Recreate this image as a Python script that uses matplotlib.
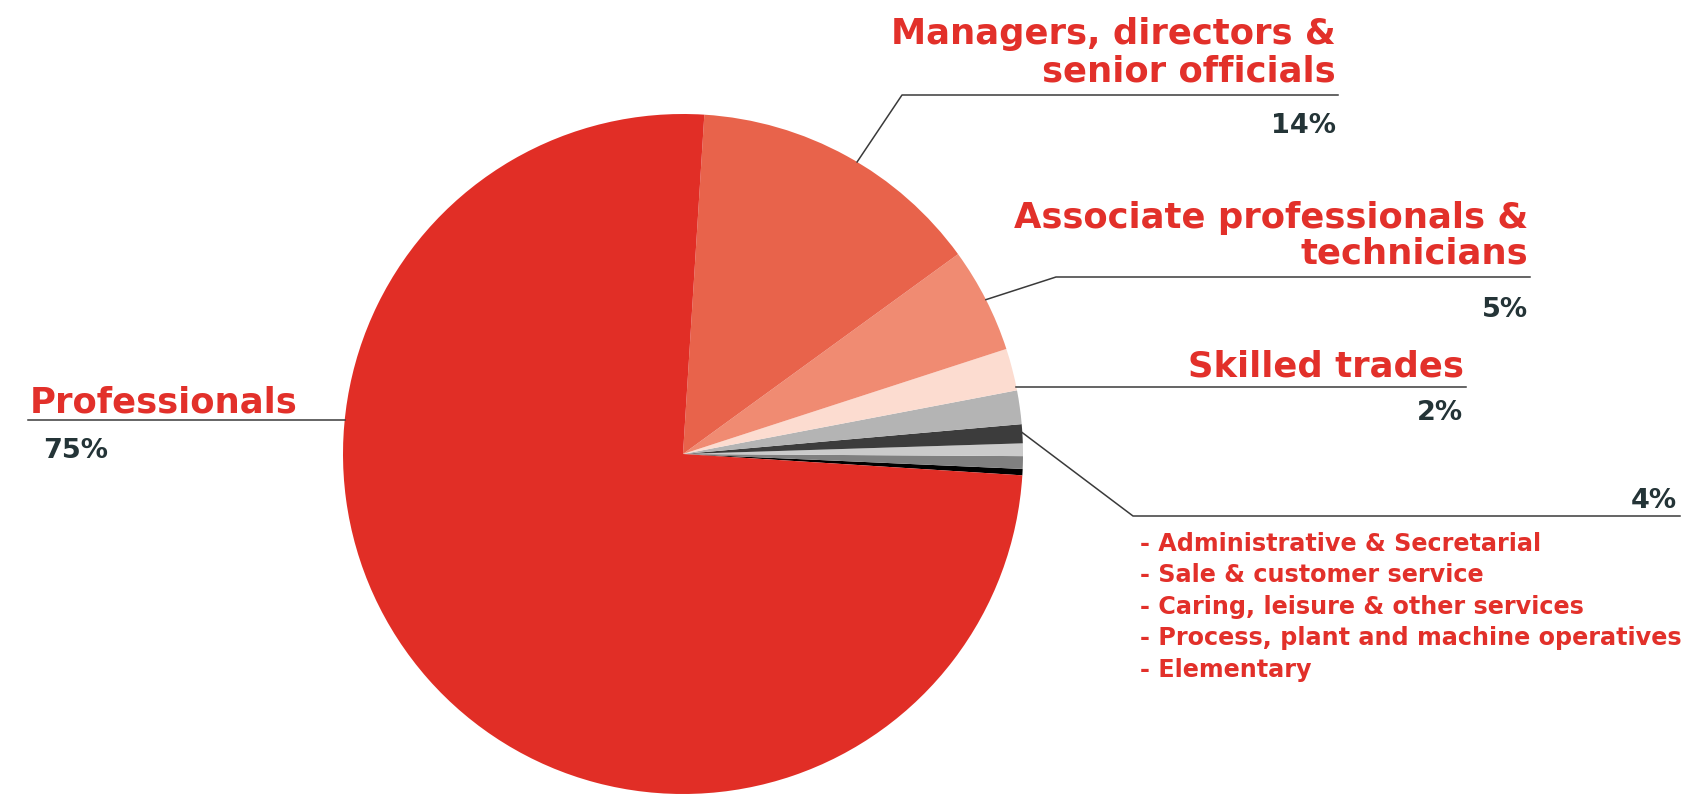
import numpy as np
import matplotlib
matplotlib.use("Agg")
import matplotlib.pyplot as plt

# Occupation shares (percent), listed counter-clockwise from 3 o'clock
categories = [
    "Elementary",
    "Process, plant and machine operatives",
    "Caring, leisure & other services",
    "Sale & customer service",
    "Administrative & Secretarial",
    "Skilled trades",
    "Associate professionals & technicians",
    "Managers, directors & senior officials",
    "Professionals",
]
shares = [0.3, 0.6, 0.6, 0.9, 1.6, 2, 5, 14, 75]
slice_colors = ["#000000", "#808080", "#cbcbcb", "#3c3c3c", "#b4b4b4",
                "#fcdcd0", "#f08b72", "#e8634b", "#e12e26"]

# The five small occupations are reported together
other_group = categories[:5]
other_total = 4
other_items = ["Administrative & Secretarial", "Sale & customer service",
               "Caring, leisure & other services",
               "Process, plant and machine operatives", "Elementary"]

RED = "#e2302a"
DARK = "#243437"
LINE = "#3a3a3a"
FONT = ["DejaVu Sans"]

W, H = 1690, 795
fig = plt.figure(figsize=(W / 100, H / 100), dpi=100)
ax = fig.add_axes([0, 0, 1, 1])

cx, cy, r = 683, H - 454, 340
wedges, _ = ax.pie(shares, colors=slice_colors, startangle=-3.6,
                   counterclock=True, center=(cx, cy), radius=r,
                   frame=True, wedgeprops=dict(linewidth=0))
ax.set_xlim(0, W)
ax.set_ylim(0, H)
ax.set_aspect("equal")
ax.axis("off")


def Y(y):
    return H - y


def edge_point(angle_deg):
    a = np.deg2rad(angle_deg)
    return cx + r * np.cos(a), cy + r * np.sin(a)


def mid_angle(w):
    return 0.5 * (w.theta1 + w.theta2)


def heading(x, y, s, ha="right", size=25.5):
    ax.text(x, Y(y), s, color=RED, fontsize=size, fontweight="bold",
            family=FONT, ha=ha, va="baseline")


def pct(x, y, s, ha="right", size=19.5):
    ax.text(x, Y(y), s, color=DARK, fontsize=size, fontweight="bold",
            family=FONT, ha=ha, va="baseline")


lw = 1.1
idx = {c: i for i, c in enumerate(categories)}

# Managers
w = wedges[idx["Managers, directors & senior officials"]]
px, py = edge_point(mid_angle(w) - 2)
ax.plot([px, 902, 1338], [py, Y(95), Y(95)], color=LINE, lw=lw)
heading(1336, 44, "Managers, directors &")
heading(1336, 81, "senior officials")
pct(1336, 133, f"{shares[idx['Managers, directors & senior officials']]}%")

# Associate professionals
w = wedges[idx["Associate professionals & technicians"]]
px, py = edge_point(mid_angle(w))
ax.plot([px, 1056, 1530], [py, Y(277), Y(277)], color=LINE, lw=lw)
heading(1528, 228, "Associate professionals &")
heading(1528, 263, "technicians")
pct(1528, 317, f"{shares[idx['Associate professionals & technicians']]}%")

# Skilled trades: horizontal leader from the pie rim
yl = Y(387)
x0 = cx + np.sqrt(r ** 2 - (yl - cy) ** 2)
ax.plot([x0, 1466], [yl, yl], color=LINE, lw=lw)
heading(1464, 377, "Skilled trades")
pct(1463, 420, f"{shares[idx['Skilled trades']]}%")

# Remaining small occupations
t1 = wedges[0].theta1
t2 = wedges[len(other_group) - 1].theta2
px, py = edge_point(0.5 * (t1 + t2))
ax.plot([px, 1133, 1680], [py, Y(516), Y(516)], color=LINE, lw=lw)
pct(1677, 508, f"{other_total}%")
for i, item in enumerate(other_items):
    ax.text(1140, Y(551 + i * 31.5), f"- {item}", color=RED, fontsize=17.2,
            fontweight="bold", family=FONT, ha="left", va="baseline")

# Professionals
yl = Y(420)
x1 = cx - np.sqrt(r ** 2 - (yl - cy) ** 2)
ax.plot([28, x1], [yl, yl], color=LINE, lw=lw)
heading(30, 413, "Professionals", ha="left")
pct(43, 458, f"{shares[idx['Professionals']]}%", ha="left")

fig.savefig("out.png", dpi=100, facecolor="white")
